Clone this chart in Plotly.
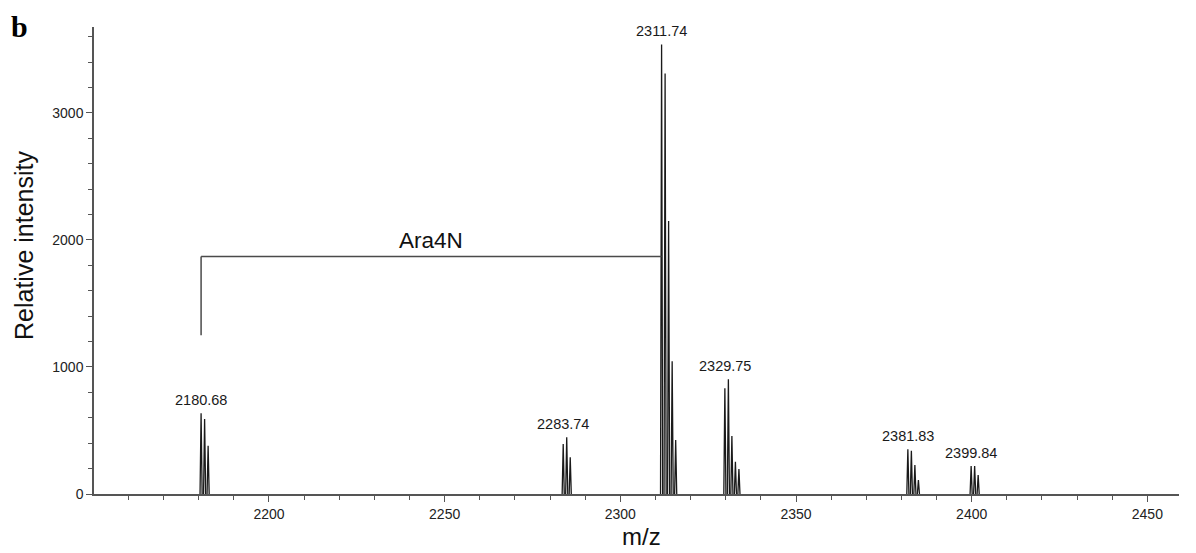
import plotly.graph_objects as go

# ---- data ----
mz_2180 = [2180.68, 2181.68, 2182.68]
int_2180 = [635, 590, 380]
mz_2283 = [2283.74, 2284.74, 2285.74]
int_2283 = [394, 446, 289]
mz_2311 = [2311.74, 2312.74, 2313.74, 2314.75, 2315.75]
int_2311 = [3540, 3310, 2150, 1045, 425]
mz_2329 = [2329.75, 2330.75, 2331.75, 2332.75, 2333.75]
int_2329 = [832, 903, 457, 254, 197]
mz_2381 = [2381.83, 2382.83, 2383.83, 2384.83]
int_2381 = [352, 341, 228, 110]
mz_2399 = [2399.84, 2400.84, 2401.84]
int_2399 = [220, 220, 150]

peak_labels = ["2180.68", "2283.74", "2311.74", "2329.75", "2381.83", "2399.84"]

ara4n_start = 2180.68
ara4n_end = 2311.74
ara4n_low = 1250
ara4n_high = 1870
ara4n_text = "Ara4N"

x_ticks = [2200, 2250, 2300, 2350, 2400, 2450]
y_ticks = [0, 1000, 2000, 3000]

x_title = "m/z"
y_title = "Relative intensity"

clusters = [(mz_2180, int_2180), (mz_2283, int_2283), (mz_2311, int_2311),
            (mz_2329, int_2329), (mz_2381, int_2381), (mz_2399, int_2399)]

# ---- build spike profile (style: half-width of each spike) ----
HW = 0.3
xs, ys = [], []
for mzs, ints in clusters:
    for m, h in zip(mzs, ints):
        xs += [m - HW, m, m + HW, None]
        ys += [0, h, 0, None]

fig = go.Figure()
fig.add_trace(go.Scatter(x=xs, y=ys, mode="lines",
                         line=dict(color="#1a1a1a", width=1.3),
                         hoverinfo="skip", showlegend=False))

# peak labels
for lab, (mzs, ints) in zip(peak_labels, clusters):
    fig.add_annotation(x=float(lab), y=max(ints), text=lab, showarrow=False,
                       xanchor="center", yanchor="bottom", yshift=3,
                       font=dict(family="Liberation Sans, Arial", size=14.5, color="#1a1a1a"))

# Ara4N bracket
fig.add_shape(type="line", x0=ara4n_start, x1=ara4n_start, y0=ara4n_low, y1=ara4n_high,
              line=dict(color="#4a4a4a", width=1.5))
fig.add_shape(type="line", x0=ara4n_start, x1=ara4n_end, y0=ara4n_high, y1=ara4n_high,
              line=dict(color="#4a4a4a", width=1.5))
fig.add_annotation(x=(ara4n_start + ara4n_end) / 2, y=ara4n_high, text=ara4n_text,
                   showarrow=False, xanchor="center", yanchor="bottom", yshift=2,
                   font=dict(family="Liberation Sans, Arial", size=22.5, color="#111"))

# axis titles (as annotations for exact placement)
fig.add_annotation(xref="paper", yref="paper", x=0.505, y=-0.092, text=x_title,
                   showarrow=False, xanchor="center", yanchor="middle",
                   font=dict(family="Liberation Sans, Arial", size=24, color="#111"))
fig.add_annotation(xref="paper", yref="paper", x=-0.0645, y=0.531, text=y_title,
                   showarrow=False, xanchor="center", yanchor="middle", textangle=-90,
                   font=dict(family="Liberation Sans, Arial", size=25, color="#111"))

# panel letter
fig.add_annotation(xref="paper", yref="paper", x=-0.077, y=1.039, text="<b>b</b>",
                   showarrow=False, xanchor="left", yanchor="top", borderpad=0,
                   font=dict(family="Liberation Serif, Times New Roman", size=30, color="#000"))

# the page body has an 8px margin, so the figure is sized/offset to compensate
fig.update_layout(
    width=1188, height=545,
    margin=dict(l=86, r=17, t=19, b=59),
    paper_bgcolor="white", plot_bgcolor="white",
    font=dict(family="Liberation Sans, Arial", color="#222"),
    xaxis=dict(range=[2150.2, 2459], showgrid=False, zeroline=False, automargin=False,
               showline=True, linecolor="#555", linewidth=1.5,
               tickmode="array", tickvals=x_ticks, ticks="outside", ticklen=6,
               tickcolor="#555", tickwidth=1.2, tickfont=dict(size=14, color="#222"),
               minor=dict(dtick=10, tick0=2150, ticks="outside", ticklen=4,
                          tickcolor="#555", tickwidth=1.2, showgrid=False)),
    yaxis=dict(range=[0, 3677], showgrid=False, zeroline=False, automargin=False,
               showline=True, linecolor="#555", linewidth=1.5,
               tickmode="array", tickvals=y_ticks, ticks="outside", ticklen=6,
               tickcolor="#555", tickwidth=1.2, tickfont=dict(size=14, color="#222"),
               minor=dict(dtick=200, tick0=0, ticks="outside", ticklen=4,
                          tickcolor="#555", tickwidth=1.2, showgrid=False)),
)

fig.write_html("out.html")
